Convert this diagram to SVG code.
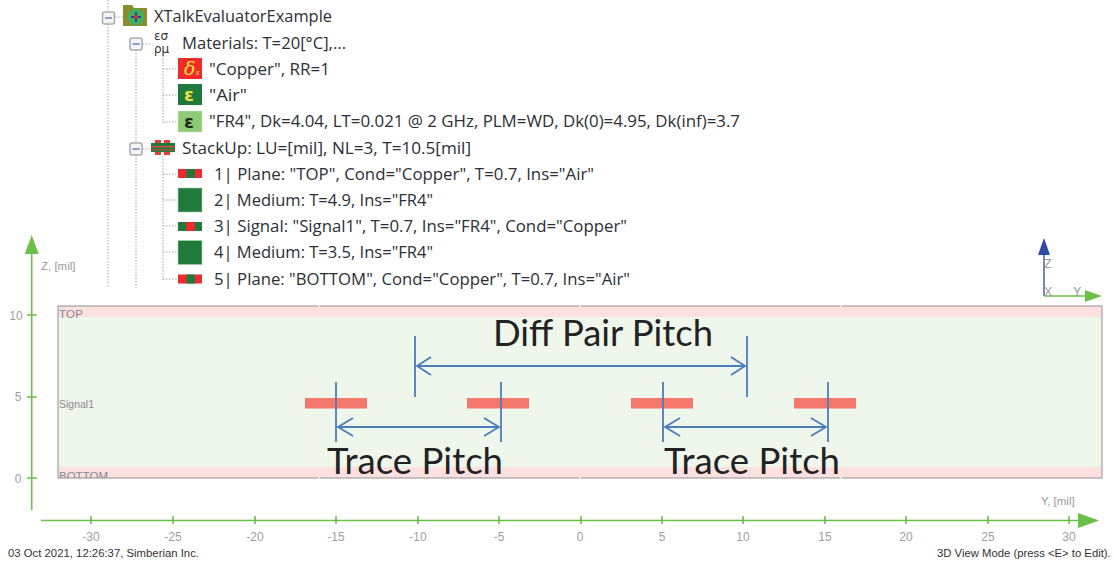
<svg xmlns="http://www.w3.org/2000/svg" width="1114" height="562" viewBox="0 0 1114 562">
<style>
text{font-family:"Open Sans","Liberation Sans",sans-serif}
.t{font-size:15.5px;fill:#2b2f36}
.ax{font-family:"Liberation Sans",sans-serif;font-size:11.5px;fill:#9a9a9a}
.tk{font-family:"Liberation Sans",sans-serif;font-size:12px;fill:#a0a0a0;text-anchor:middle}
.lay{font-family:"Liberation Sans",sans-serif;font-size:11.5px;fill:#8a8a8a}
.st{font-family:"Liberation Sans",sans-serif;font-size:11.3px;fill:#333}
.big{font-family:"Lato","Open Sans",sans-serif;font-size:37px;fill:#222}
.dot{stroke:#a8a8a8;stroke-width:1;stroke-dasharray:1.5 1.5;fill:none}
.g{stroke:#6cc04a;stroke-width:1.6;fill:none}
.b{stroke:#4a7ebb;stroke-width:1.8;fill:none}
.box{fill:#f3f3f3;stroke:#a9adb3;stroke-width:1.6}
.minus{stroke:#5b6fa8;stroke-width:1.3}
.eps{font-family:"DejaVu Sans",sans-serif;font-size:18px;font-weight:bold}
</style>
<defs>
<clipPath id="pc"><rect x="58" y="306" width="1045" height="172"/></clipPath>
<g id="exp"><rect class="box" x="-6" y="-6" width="12" height="12" rx="2"/><path class="minus" d="M-3.500 0H3.500"/></g>
<g id="pl"><rect x="0" y="-4.500" width="24" height="9" fill="#ec2b2e"/><rect x="8.500" y="-4.500" width="8.500" height="9" fill="#1f7a3b"/></g>
<g id="sg"><rect x="0" y="-4.500" width="24" height="9" fill="#1f7a3b"/><rect x="8" y="-4.500" width="9" height="9" fill="#ec2b2e"/></g>
<rect id="md" x="0" y="-12" width="24" height="24" fill="#1f7a3b" stroke="#a9cfa9" stroke-width="0.600"/>
</defs>

<g id="connectors">
<path class="dot" d="M108 0V288M136 50V288"/>
<path class="dot" d="M115 17H124M143 44H151M143 149H151"/>
<path class="dot" d="M163 56V123M163 69H178M163 95H178M163 122H178"/>
<path class="dot" d="M163 156V280M163 174H178M163 200H178M163 226H178M163 252H178M163 279H178"/>
</g>

<g id="tree-root"><use href="#exp" x="108.500" y="18"/>
<path d="M123 5h9l2 3h13v18h-24z" fill="#8e8a2e"/><circle cx="136" cy="17" r="8.500" fill="#46ad5c"/><path d="M131 17h10M136 12v10" stroke="#2546a8" stroke-width="2.200"/><circle cx="136" cy="17" r="2" fill="#d6332f"/>
<text class="t" x="154" y="21.500" textLength="178" lengthAdjust="spacingAndGlyphs">XTalkEvaluatorExample</text></g>

<g id="tree-materials"><use href="#exp" x="136" y="44"/>
<text font-size="12" fill="#333" style="font-family:'DejaVu Sans',sans-serif"><tspan x="154" y="40">εσ</tspan><tspan x="154" y="53">ρμ</tspan></text>
<text class="t" x="182" y="48.500" textLength="164" lengthAdjust="spacingAndGlyphs">Materials: T=20[°C],...</text></g>

<g id="mat-copper"><rect x="178" y="58" width="24" height="21" fill="#ee2b2b"/><text x="184" y="75" font-size="19" font-style="italic" fill="#f4e23a" style="font-family:'DejaVu Serif',serif">δ<tspan font-size="8">s</tspan></text>
<text class="t" x="209" y="74.500" textLength="121" lengthAdjust="spacingAndGlyphs">"Copper", RR=1</text></g>
<g id="mat-air"><rect x="178" y="84" width="24" height="21" fill="#1f7a3b"/><text class="eps" x="184" y="101" fill="#e8e23a" style="font-family:'DejaVu Sans',sans-serif">ε</text>
<text class="t" x="209" y="100.500" textLength="38" lengthAdjust="spacingAndGlyphs">"Air"</text></g>
<g id="mat-fr4"><rect x="178" y="111" width="24" height="21" fill="#8fca74" stroke="#cfe8c2" stroke-dasharray="1.500 1.500"/><text class="eps" x="184" y="128" fill="#1d2a1d" style="font-family:'DejaVu Sans',sans-serif">ε</text>
<text class="t" x="209" y="126.500" textLength="531" lengthAdjust="spacingAndGlyphs">"FR4", Dk=4.04, LT=0.021 @ 2 GHz, PLM=WD, Dk(0)=4.95, Dk(inf)=3.7</text></g>

<g id="tree-stackup"><use href="#exp" x="136" y="149"/>
<rect x="155" y="140" width="6" height="15" fill="#ec3a34"/><rect x="164" y="140" width="6" height="15" fill="#ec3a34"/>
<rect x="151" y="143" width="24" height="9" fill="#1f7a3b"/><rect x="151" y="146" width="24" height="1.500" fill="#d8483a"/><rect x="151" y="149.500" width="24" height="1" fill="#d8483a"/>
<text class="t" x="182" y="153.500" textLength="289" lengthAdjust="spacingAndGlyphs">StackUp: LU=[mil], NL=3, T=10.5[mil]</text></g>

<g id="layer-1"><use href="#pl" x="178" y="173.500"/><text class="t" x="214" y="179.500" textLength="380" lengthAdjust="spacingAndGlyphs">1| Plane: "TOP", Cond="Copper", T=0.7, Ins="Air"</text></g>
<g id="layer-2"><use href="#md" x="178" y="200"/><text class="t" x="214" y="205.500" textLength="219" lengthAdjust="spacingAndGlyphs">2| Medium: T=4.9, Ins="FR4"</text></g>
<g id="layer-3"><use href="#sg" x="178" y="226.500"/><text class="t" x="214" y="231.500" textLength="413" lengthAdjust="spacingAndGlyphs">3| Signal: "Signal1", T=0.7, Ins="FR4", Cond="Copper"</text></g>
<g id="layer-4"><use href="#md" x="178" y="252.500"/><text class="t" x="214" y="257.500" textLength="219" lengthAdjust="spacingAndGlyphs">4| Medium: T=3.5, Ins="FR4"</text></g>
<g id="layer-5"><use href="#pl" x="178" y="279"/><text class="t" x="214" y="284.500" textLength="416" lengthAdjust="spacingAndGlyphs">5| Plane: "BOTTOM", Cond="Copper", T=0.7, Ins="Air"</text></g>

<g id="plot">
<rect x="58" y="306" width="1044" height="172" fill="#eff6ec"/>
<rect x="58" y="306" width="1044" height="11" fill="#fce0e0"/>
<rect x="58" y="467" width="1044" height="11" fill="#fce0e0"/>
<rect x="58" y="306" width="1044" height="172" fill="none" stroke="#a8a8a8" stroke-width="1.300"/>
<path d="M319 305v2M580 305v2M841 305v2M319 477v2M580 477v2M841 477v2" stroke="#fff" stroke-width="1.200"/>
<text class="lay" x="59" y="318" letter-spacing="0.300">TOP</text>
<text class="lay" x="59" y="408" style="font-size:10.500px">Signal1</text>
<g clip-path="url(#pc)"><text class="lay" x="59" y="480">BOTTOM</text></g>
<g fill="#f4786c"><rect x="305" y="398" width="62" height="10.500"/><rect x="467" y="398" width="62" height="10.500"/><rect x="631" y="398" width="62" height="10.500"/><rect x="794" y="398" width="62" height="10.500"/></g>
</g>

<g id="axes">
<path class="g" d="M31.700 250V510M41 520.500H1082"/>
<path d="M31.700 235l7 19h-14z" fill="#6cc04a"/>
<path d="M1099 520.500l-21 -7.500v15z" fill="#6cc04a"/>
<path class="g" d="M27 315H37M27 397H37M27 478H37M91 516v8M173 516v8M255 516v8M336 516v8M418 516v8M499 516v8M581 516v8M662 516v8M743 516v8M825 516v8M906 516v8M988 516v8M1069 516v8"/>
<text class="ax" x="41" y="270">Z, [mil]</text>
<text class="tk" x="16" y="320">10</text><text class="tk" x="18" y="401">5</text><text class="tk" x="18" y="483">0</text>
<text class="tk" x="91" y="541">-30</text><text class="tk" x="173" y="541">-25</text><text class="tk" x="255" y="541">-20</text><text class="tk" x="336" y="541">-15</text><text class="tk" x="418" y="541">-10</text><text class="tk" x="499" y="541">-5</text><text class="tk" x="580" y="541">0</text><text class="tk" x="662" y="541">5</text><text class="tk" x="743" y="541">10</text><text class="tk" x="825" y="541">15</text><text class="tk" x="906" y="541">20</text><text class="tk" x="988" y="541">25</text><text class="tk" x="1069" y="541">30</text>
<text class="ax" x="1041" y="505">Y, [mil]</text>
<text class="st" x="8" y="557" textLength="191" lengthAdjust="spacingAndGlyphs">03 Oct 2021, 12:26:37, Simberian Inc.</text>
<text class="st" x="937" y="557">3D View Mode (press &lt;E&gt; to Edit).</text>
</g>

<g id="triad">
<path d="M1044 296V250" stroke="#3a55a8" stroke-width="1.400"/>
<path d="M1044 238l6 17h-12z" fill="#2e4aa3"/>
<path d="M1044 296H1086" stroke="#6cc04a" stroke-width="1.400"/>
<path d="M1102 296l-17 -6v12z" fill="#6cc04a"/>
<text class="ax" x="1044" y="268" style="font-size:12.500px">Z</text><text class="ax" x="1044" y="296" style="font-size:12.500px">X</text><text class="ax" x="1073" y="296" style="font-size:12.500px">Y</text>
</g>

<g id="dimensions">
<path class="b" d="M415 336V397M747 336V397M417 366H745M431 357L417 366L431 375M731 357L745 366L731 375"/>
<path class="b" d="M336 382V442M501 382V442M338 427H499M353 418L338 427L353 436M484 418L499 427L484 436"/>
<path class="b" d="M663 382V442M828 382V442M665 427H826M680 418L665 427L680 436M811 418L826 427L811 436"/>
<text class="big" x="493" y="346" textLength="220" lengthAdjust="spacingAndGlyphs">Diff Pair Pitch</text>
<text class="big" x="327" y="474" textLength="176" lengthAdjust="spacingAndGlyphs">Trace Pitch</text>
<text class="big" x="664" y="474" textLength="176" lengthAdjust="spacingAndGlyphs">Trace Pitch</text>
</g>
</svg>
